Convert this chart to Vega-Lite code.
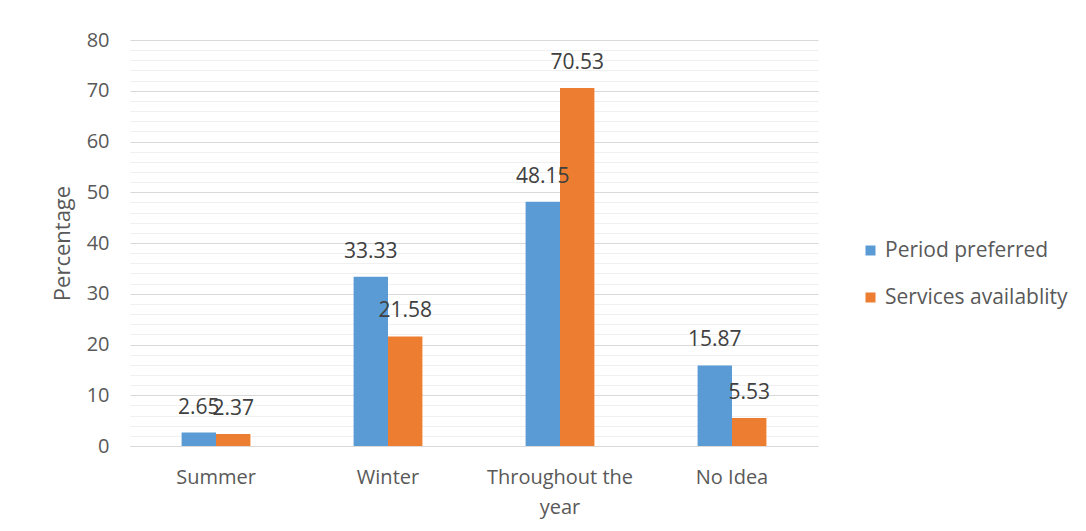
{
  "$schema": "https://vega.github.io/schema/vega-lite/v6.json",
  "autosize": {"type": "none"},
  "width": 688,
  "height": 406,
  "padding": {"left": 130, "top": 40, "right": 268, "bottom": 85},
  "background": "white",
  "config": {
    "font": "Open Sans",
    "view": {"stroke": null},
    "axis": {"labelColor": "#595959", "titleColor": "#595959", "labelFontSize": 20, "titleFontWeight": "normal"}
  },
  "data": {
    "values": [
      {"period": "Summer", "series": "Period preferred", "pct": 2.65},
      {"period": "Summer", "series": "Services availablity", "pct": 2.37},
      {"period": "Winter", "series": "Period preferred", "pct": 33.33},
      {"period": "Winter", "series": "Services availablity", "pct": 21.58},
      {"period": "Throughout the year", "series": "Period preferred", "pct": 48.15},
      {"period": "Throughout the year", "series": "Services availablity", "pct": 70.53},
      {"period": "No Idea", "series": "Period preferred", "pct": 15.87},
      {"period": "No Idea", "series": "Services availablity", "pct": 5.53}
    ]
  },
  "encoding": {
    "x": {
      "field": "period",
      "type": "nominal",
      "sort": null,
      "scale": {"paddingInner": 0.6, "paddingOuter": 0.3},
      "axis": {
        "title": null,
        "labelAngle": 0,
        "ticks": false,
        "domain": true,
        "domainColor": "#d9d9d9",
        "labelPadding": 21,
        "labelLineHeight": 30,
        "labelExpr": "datum.label == 'Throughout the year' ? ['Throughout the', 'year'] : datum.label"
      }
    },
    "xOffset": {"field": "series", "type": "nominal", "scale": {"paddingInner": 0, "paddingOuter": 0}},
    "y": {
      "field": "pct",
      "type": "quantitative",
      "scale": {"domain": [0, 80], "nice": false},
      "axis": {
        "title": "Percentage",
        "titleFontSize": 22,
        "titlePadding": 12,
        "values": [0, 2, 4, 6, 8, 10, 12, 14, 16, 18, 20, 22, 24, 26, 28, 30, 32, 34, 36, 38, 40, 42, 44, 46, 48, 50, 52, 54, 56, 58, 60, 62, 64, 66, 68, 70, 72, 74, 76, 78, 80],
        "labelExpr": "datum.value % 10 === 0 ? datum.label : ''",
        "ticks": false,
        "domain": false,
        "labelPadding": 21,
        "gridColor": {"condition": {"test": "datum.value % 10 === 0", "value": "#d9d9d9"}, "value": "#f0f0f0"},
        "gridWidth": 1
      }
    }
  },
  "layer": [
    {
      "mark": {"type": "bar"},
      "encoding": {
        "color": {
          "field": "series",
          "type": "nominal",
          "scale": {"domain": ["Period preferred", "Services availablity"], "range": ["#5B9BD5", "#ED7D31"]},
          "legend": {
            "title": null,
            "orient": "none",
            "legendX": 730,
            "legendY": 200,
            "symbolType": "square",
            "symbolSize": 100,
            "symbolStrokeWidth": 0,
            "labelFontSize": 21,
            "labelColor": "#595959",
            "labelOffset": 4,
            "labelLimit": 400,
            "rowPadding": 25
          }
        }
      }
    },
    {
      "mark": {"type": "text", "baseline": "middle", "dy": -25, "fontSize": 21, "color": "#404040"},
      "encoding": {"text": {"field": "pct", "type": "quantitative", "format": ".2f"}}
    }
  ]
}
